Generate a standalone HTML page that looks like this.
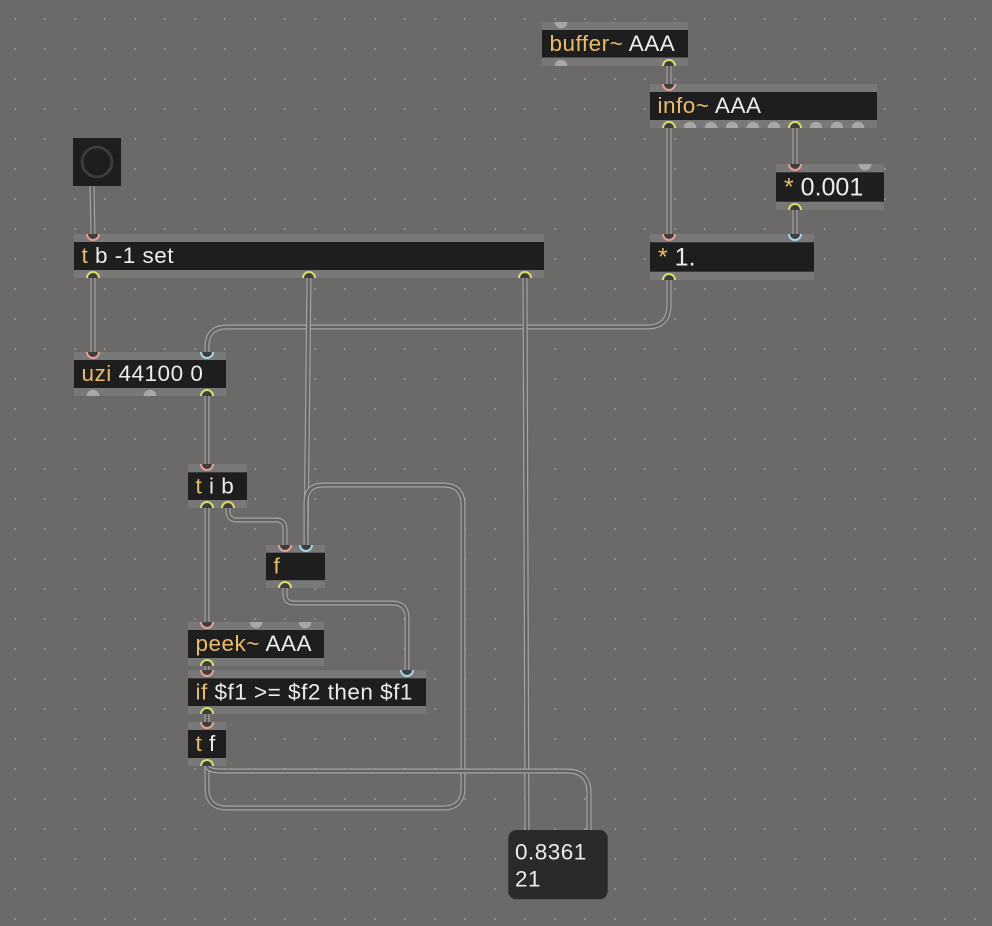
<!DOCTYPE html>
<html><head><meta charset="utf-8"><style>
html,body{margin:0;padding:0;background:#6b6a68;}
svg{display:block;}
.t{font-family:"Liberation Sans",Arial,sans-serif;font-size:22.5px;letter-spacing:0.5px;}
.b{font-family:"Liberation Sans",Arial,sans-serif;font-size:25px;}
.k{fill:#e9bb6c;}
.w{fill:#ececec;}
.co{fill:none;stroke:#a4a4a4;stroke-width:5;stroke-linecap:round;stroke-linejoin:round;}
.ci{fill:none;stroke:#636262;stroke-width:2.6;stroke-linecap:round;stroke-linejoin:round;}
.s{fill:#787878;}
.bd{fill:#1e1e1e;}
.g{fill:#a8a8a8;}
.pi{fill:#3e3e3e;stroke:#e8a094;stroke-width:2;}
.pb{fill:#3e3e3e;stroke:#a3d6e6;stroke-width:2;}
.py{fill:#3e3e3e;stroke:#d9db6c;stroke-width:2;}
</style></head><body>
<svg width="992" height="926" viewBox="0 0 992 926" xmlns="http://www.w3.org/2000/svg">
<defs>
<pattern id="grid" x="14" y="18" width="30" height="30" patternUnits="userSpaceOnUse">
<rect x="0" y="0" width="2" height="2" fill="#8b8b8a"/>
</pattern>
</defs>
<rect width="992" height="926" fill="#6b6a68"/>
<rect width="992" height="926" fill="url(#grid)"/>

<!-- cords -->
<g>
<path class="co" d="M669,280 L669,305 Q669,327 647,327 L227,327 Q207,327 207,347 L207,352"/>
<path class="ci" d="M669,280 L669,305 Q669,327 647,327 L227,327 Q207,327 207,347 L207,352"/>

<path class="co" d="M669,66 L669,84"/><path class="ci" d="M669,66 L669,84"/>
<path class="co" d="M669,128 L669,234"/><path class="ci" d="M669,128 L669,234"/>
<path class="co" d="M795,128 L795,164"/><path class="ci" d="M795,128 L795,164"/>
<path class="co" d="M795,210 L795,234"/><path class="ci" d="M795,210 L795,234"/>
<path class="co" d="M92,186 L93,234"/><path class="ci" d="M92,186 L93,234"/>
<path class="co" d="M93,278 L93,352"/><path class="ci" d="M93,278 L93,352"/>
<path class="co" d="M309,278 L306,545"/><path class="ci" d="M309,278 L306,545"/>

<path class="co" d="M207,766 L207,788 Q207,808 227,808 L443,808 Q463,808 463,788 L463,505 Q463,485 443,485 L323,485 Q306,485 306,502 L306,545"/>
<path class="ci" d="M207,766 L207,788 Q207,808 227,808 L443,808 Q463,808 463,788 L463,505 Q463,485 443,485 L323,485 Q306,485 306,502 L306,545"/>

<path class="co" d="M525,278 L527,830"/><path class="ci" d="M525,278 L527,830"/>

<path class="co" d="M207,766 Q208,771 222,771 L567,771 Q589,771 589,793 L589,830"/>
<path class="ci" d="M207,766 Q208,771 222,771 L567,771 Q589,771 589,793 L589,830"/>

<path class="co" d="M207,396 L207,464"/><path class="ci" d="M207,396 L207,464"/>
<path class="co" d="M207,508 L207,622"/><path class="ci" d="M207,508 L207,622"/>
<path class="co" d="M228,508 L228,511 Q228,520 237,520 L276,520 Q285,520 285,529 L285,545"/>
<path class="ci" d="M228,508 L228,511 Q228,520 237,520 L276,520 Q285,520 285,529 L285,545"/>
<path class="co" d="M285,588 L285,594 Q285,603 294,603 L392,603 Q407,603 407,618 L407,670"/>
<path class="ci" d="M285,588 L285,594 Q285,603 294,603 L392,603 Q407,603 407,618 L407,670"/>
<path class="co" d="M207,666 L207,670"/><path class="ci" d="M207,666 L207,670"/>
<path class="co" d="M207,714 L207,722"/><path class="ci" d="M207,714 L207,722"/>
</g>

<!-- button -->
<rect x="73" y="138" width="48" height="48" fill="#1e1e1e"/>
<circle cx="97" cy="162" r="14.9" fill="none" stroke="#3d3d3d" stroke-width="2.8"/>

<!-- buffer~ -->
<rect class="s" x="542" y="22" width="146" height="44"/>
<rect class="bd" x="542" y="30" width="146" height="27.5"/>
<text class="t" x="549.5" y="51"><tspan class="k">buffer~</tspan><tspan class="w"> AAA</tspan></text>

<!-- info~ -->
<rect class="s" x="650" y="84" width="227" height="44"/>
<rect class="bd" x="650" y="92" width="227" height="28"/>
<text class="t" x="657.5" y="113"><tspan class="k">info~</tspan><tspan class="w"> AAA</tspan></text>

<!-- * 0.001 -->
<rect class="s" x="776" y="164" width="108" height="46"/>
<rect class="bd" x="776" y="172.3" width="108" height="29.4"/>
<text class="b" x="784" y="195.7"><tspan class="k">*</tspan><tspan class="w"> 0.001</tspan></text>

<!-- * 1. -->
<rect class="s" x="650" y="234" width="164" height="46"/>
<rect class="bd" x="650" y="242.3" width="164" height="29.4"/>
<text class="b" x="658" y="265.7"><tspan class="k">*</tspan><tspan class="w"> 1.</tspan></text>

<!-- t b -1 set -->
<rect class="s" x="74" y="234" width="470" height="44"/>
<rect class="bd" x="74" y="242" width="470" height="28"/>
<text class="t" x="81.5" y="263"><tspan class="k">t</tspan><tspan class="w"> b -1 set</tspan></text>

<!-- uzi -->
<rect class="s" x="74" y="352" width="152" height="44"/>
<rect class="bd" x="74" y="360" width="152" height="28"/>
<text class="t" x="81.5" y="381"><tspan class="k">uzi</tspan><tspan class="w"> 44100 0</tspan></text>

<!-- t i b -->
<rect class="s" x="188" y="464" width="59" height="44"/>
<rect class="bd" x="188" y="472.3" width="59" height="27.7"/>
<text class="t" x="195.5" y="493.3"><tspan class="k">t</tspan><tspan class="w"> i b</tspan></text>

<!-- f -->
<rect class="s" x="266" y="545" width="59" height="43"/>
<rect class="bd" x="266" y="552.7" width="59" height="27.5"/>
<text class="t" x="273.5" y="573.5"><tspan class="k">f</tspan></text>

<!-- peek~ -->
<rect class="s" x="188" y="622" width="136" height="44"/>
<rect class="bd" x="188" y="630" width="136" height="28"/>
<text class="t" x="195.5" y="651"><tspan class="k">peek~</tspan><tspan class="w"> AAA</tspan></text>

<!-- if -->
<rect class="s" x="188" y="670" width="238" height="44"/>
<rect class="bd" x="188" y="678.3" width="238" height="27.7"/>
<text class="t" x="195.5" y="699.3"><tspan class="k">if</tspan><tspan class="w"> $f1 &gt;= $f2 then $f1</tspan></text>

<!-- t f -->
<rect class="s" x="188" y="722" width="38" height="44"/>
<rect class="bd" x="188" y="730" width="38" height="28"/>
<text class="t" x="195.5" y="751"><tspan class="k">t</tspan><tspan class="w"> f</tspan></text>

<!-- number/message box -->
<rect x="508.3" y="830" width="99.4" height="69.3" rx="8" ry="8" fill="#2a2a2a"/>
<text class="t w" x="515" y="859.3">0.8361</text>
<text class="t w" x="515" y="886.7">21</text>

<!-- ports: gray inactive -->
<g class="g">
<path d="M554.7,22 A6.3,6.3 0 0 0 567.3,22 Z"/>
<path d="M554.7,66 A6.3,6.3 0 0 1 567.3,66 Z"/>
<path d="M683.7,128 A6.3,6.3 0 0 1 696.3,128 Z"/>
<path d="M704.7,128 A6.3,6.3 0 0 1 717.3,128 Z"/>
<path d="M725.7,128 A6.3,6.3 0 0 1 738.3,128 Z"/>
<path d="M746.7,128 A6.3,6.3 0 0 1 759.3,128 Z"/>
<path d="M767.7,128 A6.3,6.3 0 0 1 780.3,128 Z"/>
<path d="M809.7,128 A6.3,6.3 0 0 1 822.3,128 Z"/>
<path d="M830.7,128 A6.3,6.3 0 0 1 843.3,128 Z"/>
<path d="M851.7,128 A6.3,6.3 0 0 1 864.3,128 Z"/>
<path d="M858.7,164 A6.3,6.3 0 0 0 871.3,164 Z"/>
<path d="M86.7,396 A6.3,6.3 0 0 1 99.3,396 Z"/>
<path d="M143.7,396 A6.3,6.3 0 0 1 156.3,396 Z"/>
<path d="M249.7,622 A6.3,6.3 0 0 0 262.3,622 Z"/>
<path d="M298.7,622 A6.3,6.3 0 0 0 311.3,622 Z"/>
</g>

<!-- connected inlets (pink) -->
<g class="pi">
<path d="M663,84 A6,6 0 0 0 675,84"/>
<path d="M789,164 A6,6 0 0 0 801,164"/>
<path d="M663,234 A6,6 0 0 0 675,234"/>
<path d="M87,234 A6,6 0 0 0 99,234"/>
<path d="M87,352 A6,6 0 0 0 99,352"/>
<path d="M201,464 A6,6 0 0 0 213,464"/>
<path d="M279,545 A6,6 0 0 0 291,545"/>
<path d="M201,622 A6,6 0 0 0 213,622"/>
<path d="M201,670 A6,6 0 0 0 213,670"/>
<path d="M201,722 A6,6 0 0 0 213,722"/>
</g>
<!-- connected cold inlets (blue) -->
<g class="pb">
<path d="M789,234 A6,6 0 0 0 801,234"/>
<path d="M201,352 A6,6 0 0 0 213,352"/>
<path d="M300,545 A6,6 0 0 0 312,545"/>
<path d="M401,670 A6,6 0 0 0 413,670"/>
</g>
<!-- connected outlets (yellow) -->
<g class="py">
<path d="M663,66 A6,6 0 0 1 675,66"/>
<path d="M663,128 A6,6 0 0 1 675,128"/>
<path d="M789,128 A6,6 0 0 1 801,128"/>
<path d="M789,210 A6,6 0 0 1 801,210"/>
<path d="M663,280 A6,6 0 0 1 675,280"/>
<path d="M87,278 A6,6 0 0 1 99,278"/>
<path d="M303,278 A6,6 0 0 1 315,278"/>
<path d="M519,278 A6,6 0 0 1 531,278"/>
<path d="M201,396 A6,6 0 0 1 213,396"/>
<path d="M201,508 A6,6 0 0 1 213,508"/>
<path d="M222,508 A6,6 0 0 1 234,508"/>
<path d="M279,588 A6,6 0 0 1 291,588"/>
<path d="M201,666 A6,6 0 0 1 213,666"/>
<path d="M201,714 A6,6 0 0 1 213,714"/>
<path d="M201,766 A6,6 0 0 1 213,766"/>
</g>
</svg>
</body></html>
